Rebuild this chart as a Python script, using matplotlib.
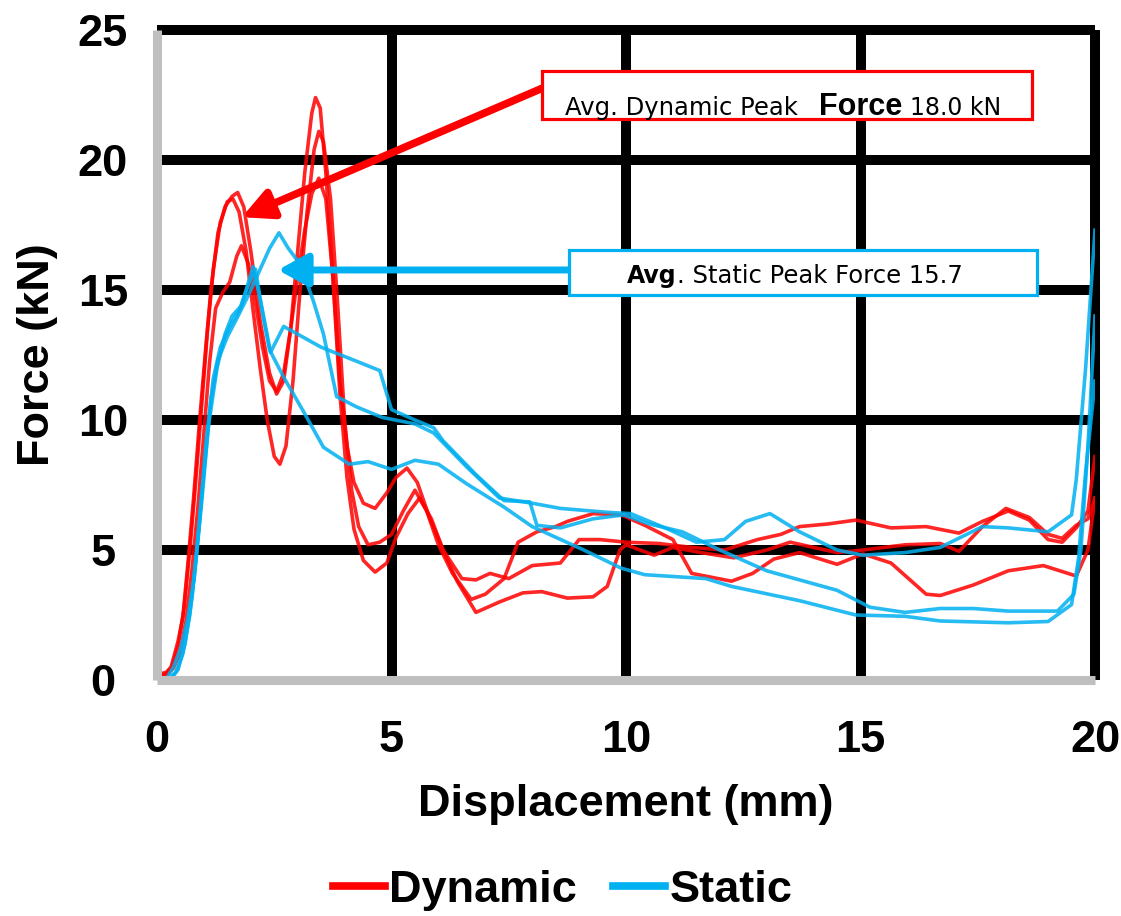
import numpy as np
import matplotlib
matplotlib.use('Agg')
import matplotlib.pyplot as plt
from matplotlib.lines import Line2D
from matplotlib.patches import Rectangle, FancyArrowPatch

plt.rcParams['font.family'] = ['Liberation Sans', 'DejaVu Sans']

# ── Data ──────────────────────────────────────────────────────────────────────
dyn1_x = [0, 0.2, 0.3, 0.45, 0.55, 0.66, 0.78, 0.9, 1.05, 1.15, 1.3, 1.45, 1.6, 1.72,
          1.85, 2.0, 2.2, 2.4, 2.55, 2.7, 2.85, 3.0, 3.15, 3.3, 3.38, 3.48, 3.6, 3.75,
          3.9, 4.05, 4.2, 4.4, 4.65, 4.9, 5.1, 5.33, 5.55, 5.8, 6.1, 6.5, 6.8, 7.1, 7.5,
          8.0, 8.6, 9.0, 9.45, 10.0, 10.7, 11.4, 12.1, 12.8, 13.3, 13.7, 14.3, 14.9,
          15.65, 16.4, 17.1, 17.6, 18.15, 18.6, 19.0, 19.3, 19.6, 19.85, 20.0]
dyn1_y = [0.2, 0.3, 0.5, 1.5, 2.4, 4.5, 7.0, 9.8, 13.0, 15.0, 17.2, 18.2, 18.6, 18.75,
          18.2, 16.5, 13.8, 11.8, 11.0, 11.5, 13.5, 16.5, 19.5, 21.8, 22.4, 22.0, 19.5, 15.5,
          11.5, 9.0, 7.6, 6.8, 6.6, 7.2, 7.8, 8.15, 7.6, 6.3, 5.0, 3.9, 3.85, 4.1, 3.9,
          4.4, 4.5, 5.4, 5.4, 5.3, 5.25, 5.1, 5.0, 5.4, 5.6, 5.9, 6.0, 6.15,
          5.85, 5.9, 5.65, 6.1, 6.5, 6.15, 5.4, 5.3, 5.85, 6.5, 8.6]

dyn2_x = [0, 0.2, 0.32, 0.45, 0.58, 0.7, 0.82, 0.95, 1.08, 1.2, 1.35, 1.5, 1.62, 1.75,
          1.9, 2.05, 2.2, 2.35, 2.5, 2.62, 2.75, 2.9, 3.05, 3.2, 3.35, 3.45, 3.55, 3.7,
          3.85, 4.0, 4.15, 4.3, 4.5, 4.75, 5.0, 5.25, 5.5, 5.75, 6.0, 6.3, 6.7, 7.0, 7.4,
          7.7, 8.1, 8.5, 8.75, 9.3, 9.9, 10.4, 11.0, 11.4, 12.25, 12.7, 13.15, 13.7, 14.5,
          15.05, 15.65, 16.4, 16.7, 17.4, 18.15, 18.9, 19.6, 19.85, 20.0]
dyn2_y = [0.15, 0.25, 0.5, 1.3, 2.8, 5.0, 7.5, 10.5, 13.5, 15.8, 17.6, 18.4, 18.5, 18.0,
          16.5, 14.2, 12.0, 10.0, 8.6, 8.3, 9.0, 11.5, 15.0, 18.0, 20.4, 21.1, 20.7, 18.5,
          14.5, 10.0, 7.3, 5.9, 5.2, 5.3, 5.6, 6.5, 7.3, 6.5, 5.2, 4.1, 3.1, 3.3, 3.9,
          5.3, 5.7, 5.9, 6.1, 6.4, 6.35, 5.95, 5.4, 4.1, 3.8, 4.1, 4.65, 4.9, 4.45,
          4.85, 4.5, 3.3, 3.25, 3.65, 4.2, 4.4, 4.0, 5.0, 7.0]

dyn3_x = [0, 0.2, 0.35, 0.5, 0.62, 0.75, 0.88, 1.0, 1.12, 1.25, 1.4, 1.55, 1.7, 1.8,
          1.95, 2.1, 2.25, 2.4, 2.55, 2.7, 2.85, 3.0, 3.15, 3.3, 3.45, 3.6, 3.75, 3.9,
          4.05, 4.2, 4.4, 4.65, 4.9, 5.1, 5.35, 5.6, 5.85, 6.1, 6.4, 6.8, 7.3, 7.8, 8.2,
          8.75, 9.3, 9.6, 9.87, 10.0, 10.6, 11.0, 11.6, 12.3, 13.0, 13.5, 14.0, 14.5,
          15.05, 15.95, 16.7, 17.1, 17.6, 18.1, 18.6, 19.0, 19.3, 19.6, 19.85, 20.0]
dyn3_y = [0.1, 0.2, 0.45, 1.1, 2.3, 4.3, 6.8, 9.5, 12.2, 14.3, 14.9, 15.3, 16.3, 16.7,
          16.0, 14.5, 12.8, 11.5, 11.1, 11.8, 13.5, 15.5, 17.3, 18.7, 19.3, 18.5, 15.5, 11.0,
          7.8, 5.8, 4.6, 4.15, 4.5, 5.5, 6.4, 7.0, 6.2, 5.0, 3.8, 2.6, 3.0, 3.35, 3.4,
          3.15, 3.2, 3.6, 5.0, 5.2, 4.8, 5.1, 4.9, 4.7, 5.0, 5.3, 5.1, 4.9,
          5.0, 5.2, 5.25, 4.95, 5.9, 6.6, 6.25, 5.6, 5.45, 5.95, 6.2, 7.0]

sta1_x = [0, 0.2, 0.35, 0.5, 0.65, 0.8, 0.95, 1.1, 1.28, 1.45, 1.6, 1.8, 2.05, 2.25,
          2.42, 2.7, 3.5, 4.2, 4.75, 5.0, 5.5, 5.9, 6.1, 6.8, 7.4, 7.95, 8.1, 8.6, 9.3,
          9.95, 10.5, 11.2, 12.0, 13.0, 13.7, 14.5, 15.2, 15.95, 16.7, 17.4, 18.15, 19.2,
          19.55, 19.7, 19.85, 20.0]
sta1_y = [0.0, 0.05, 0.5, 1.2, 2.3, 4.0, 6.8, 9.8, 12.0, 13.3, 14.0, 14.4, 15.9, 14.2,
          12.6, 13.6, 12.8, 12.3, 11.9, 10.4, 10.0, 9.7, 9.2, 7.9, 6.9, 6.85, 5.95, 5.85, 6.2,
          6.35, 6.0, 5.7, 5.0, 4.2, 3.85, 3.45, 2.8, 2.6, 2.75, 2.75, 2.65, 2.65,
          3.3, 5.0, 9.0, 14.0]

sta2_x = [0, 0.25, 0.4, 0.55, 0.7, 0.85, 1.0, 1.15, 1.3, 1.5, 1.7, 1.95, 2.2, 2.4, 2.6,
          2.8, 3.05, 3.33, 3.55, 3.83, 4.26, 4.8, 5.5, 5.9, 6.6, 7.3, 8.0, 8.6, 9.6, 10.1,
          10.9, 11.5, 12.1, 12.55, 13.07, 13.7, 14.5, 15.05, 15.95, 16.7, 17.6, 18.15, 19.0,
          19.5, 19.6, 19.8, 20.0]
sta2_y = [0.0, 0.05, 0.3, 1.0, 2.5, 5.0, 8.0, 10.8, 12.3, 13.2, 13.9, 14.8, 15.8, 16.6, 17.2,
          16.6, 16.0, 14.6, 13.3, 10.9, 10.5, 10.1, 9.85, 9.5, 8.2, 7.0, 6.8, 6.6, 6.45, 6.4,
          5.8, 5.3, 5.4, 6.1, 6.4, 5.7, 5.0, 4.8, 4.9, 5.1, 5.9, 5.85, 5.7,
          6.35, 7.7, 12.0, 17.3]

sta3_x = [0, 0.3, 0.45, 0.6, 0.75, 0.9, 1.05, 1.2, 1.35, 1.55, 1.75, 1.95, 2.1, 2.26, 2.4,
          2.7, 3.1, 3.55, 4.1, 4.5, 5.0, 5.5, 6.0, 6.6, 7.4, 8.0, 9.1, 9.9, 10.4, 11.7,
          12.25, 13.7, 14.9, 15.95, 16.7, 18.15, 19.0, 19.5, 19.65, 19.8, 20.0]
sta3_y = [0.0, 0.05, 0.4, 1.4, 3.2, 6.0, 9.2, 11.6, 12.8, 13.6, 14.2, 15.2, 15.8, 14.0, 12.7,
          11.65, 10.4, 8.95, 8.3, 8.4, 8.1, 8.45, 8.3, 7.55, 6.65, 5.9, 5.0, 4.3, 4.05, 3.9,
          3.6, 3.05, 2.5, 2.45, 2.27, 2.2, 2.25, 2.9, 4.7, 8.0, 11.5]

dynamic_runs = [(dyn1_x, dyn1_y), (dyn2_x, dyn2_y), (dyn3_x, dyn3_y)]
static_runs = [(sta1_x, sta1_y), (sta2_x, sta2_y), (sta3_x, sta3_y)]

x_ticks = [0, 5, 10, 15, 20]
y_ticks = [0, 5, 10, 15, 20, 25]
dyn_peak = 18.0
sta_peak = 15.7

RED = '#FF0000'
BLUE = '#00B0F0'
GRAY = '#BFBFBF'
FS = 32.5

# ── Figure ────────────────────────────────────────────────────────────────────
W, H = 1121, 916
fig = plt.figure(figsize=(W / 100, H / 100), dpi=100)
ax = fig.add_axes([157 / W, (H - 680) / H, (1095 - 157) / W, (680 - 30) / H])
ax.set_xlim(0, 20)
ax.set_ylim(0, 25)

# thick black grid
for yv in y_ticks[1:-1]:
    ax.axhline(yv, color='black', lw=7.2, zorder=1, solid_capstyle='butt')
for xv in x_ticks[1:-1]:
    ax.axvline(xv, color='black', lw=7.2, zorder=1, solid_capstyle='butt')

for spine in ['top', 'right']:
    ax.spines[spine].set_color('black')
    ax.spines[spine].set_linewidth(7.2)
for spine in ['left', 'bottom']:
    ax.spines[spine].set_color(GRAY)
    ax.spines[spine].set_linewidth(6.5)
    ax.spines[spine].set_zorder(5)
for spine in ax.spines.values():
    spine.set_capstyle('butt')

for xs, ys in dynamic_runs:
    ax.plot(xs, ys, color=RED, lw=2.6, alpha=0.85, zorder=3, solid_joinstyle='round')
for xs, ys in static_runs:
    ax.plot(xs, ys, color=BLUE, lw=2.6, alpha=0.85, zorder=3, solid_joinstyle='round')

ax.set_xticks(x_ticks)
ax.set_yticks(y_ticks)
ax.tick_params(length=0, labelsize=FS)
ax.tick_params(axis='x', pad=29)
ax.tick_params(axis='y', pad=39)
for lbl in ax.get_xticklabels() + ax.get_yticklabels():
    lbl.set_fontweight('bold')
for lbl in ax.get_yticklabels():
    lbl.set_horizontalalignment('center')

ax.set_xlabel('Displacement (mm)', fontsize=FS, fontweight='bold', va='center')
ax.xaxis.set_label_coords(0.5, -0.192)
ax.set_ylabel('Force (kN)', fontsize=FS, fontweight='bold', va='center')
ax.yaxis.set_label_coords(-0.127, 0.5)

# ── Annotations ───────────────────────────────────────────────────────────────
red_arrow = FancyArrowPatch((8.2, 22.75), (1.81, 17.8),
                            arrowstyle='-|>,head_length=0.9,head_width=0.45',
                            mutation_scale=20, color=RED, lw=5.5, zorder=6,
                            shrinkA=0, shrinkB=0)
ax.add_patch(red_arrow)
blue_arrow = FancyArrowPatch((8.8, 15.77), (2.58, 15.77),
                             arrowstyle='-|>,head_length=0.9,head_width=0.5',
                             mutation_scale=20, color=BLUE, lw=5.0, zorder=6,
                             shrinkA=0, shrinkB=0)
ax.add_patch(blue_arrow)

ax.add_patch(Rectangle((8.21, 21.58), 18.65 - 8.21, 23.42 - 21.58, facecolor='white',
                       edgecolor=RED, lw=2.3, zorder=7, clip_on=False))
ax.add_patch(Rectangle((8.78, 14.81), 18.76 - 8.78, 16.54 - 14.81, facecolor='white',
                       edgecolor=BLUE, lw=2.3, zorder=7, clip_on=False))

small = dict(family=['DejaVu Sans'], va='baseline', ha='left', zorder=8)
ax.text(8.7, 21.73, 'Avg. Dynamic Peak', fontsize=17.5, **small)
ax.text(14.12, 21.73, 'Force', fontsize=22, fontweight='bold', va='baseline', ha='left',
        zorder=8)
ax.text(16.06, 21.73, f'{dyn_peak:.1f} kN', fontsize=17, **small)

ax.text(10.02, 15.28, 'Avg', fontsize=17, fontweight='bold', **small)
ax.text(11.08, 15.28, f'. Static Peak Force {sta_peak}', fontsize=17.5, **small)

# ── Legend ────────────────────────────────────────────────────────────────────
handles = [Line2D([], [], color=RED, lw=5.5), Line2D([], [], color=BLUE, lw=5.5)]
fig.legend(handles, ['Dynamic', 'Static'], loc='center', bbox_to_anchor=(0.502, 0.028),
           ncol=2, frameon=False, handlelength=1.15, handletextpad=0.1, columnspacing=0.8,
           prop={'size': FS, 'weight': 'bold'})

fig.savefig('out.png', dpi=100)
